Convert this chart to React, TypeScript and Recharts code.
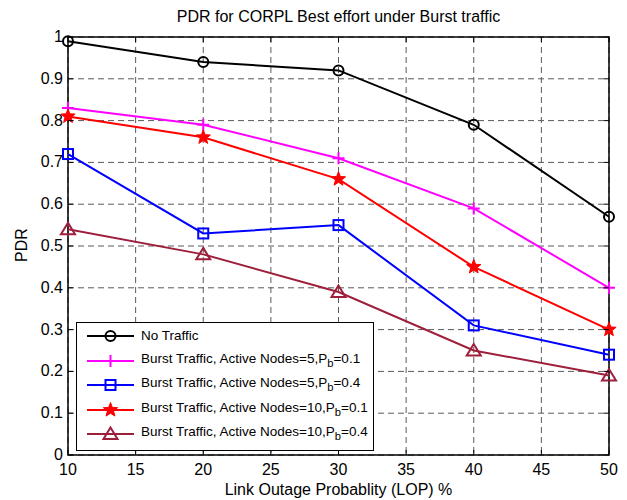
import React from "react";
import {
  LineChart,
  Line,
  XAxis,
  YAxis,
  CartesianGrid,
  ReferenceArea,
} from "recharts";

const lopValues = [10, 20, 30, 40, 50];
const noTraffic = [0.99, 0.94, 0.92, 0.79, 0.57];
const burst5Pb01 = [0.83, 0.79, 0.71, 0.59, 0.4];
const burst5Pb04 = [0.72, 0.53, 0.55, 0.31, 0.24];
const burst10Pb01 = [0.81, 0.76, 0.66, 0.45, 0.3];
const burst10Pb04 = [0.54, 0.48, 0.39, 0.25, 0.19];

const xTicks = [10, 15, 20, 25, 30, 35, 40, 45, 50];
const yTicks = [0, 0.1, 0.2, 0.3, 0.4, 0.5, 0.6, 0.7, 0.8, 0.9, 1];

const W = 627;
const H = 500;
const M = { top: 37, right: 18, bottom: 0, left: 0 };
const Y_AXIS_W = 68;
const X_AXIS_H = 45;
const PLOT_L = M.left + Y_AXIS_W;
const PLOT_R = W - M.right;
const PLOT_T = M.top;
const PLOT_B = H - X_AXIS_H;

const FONT = "'Liberation Sans', Arial, Helvetica, sans-serif";
const MAROON = "#9e1f3c";

const data = lopValues.map((lop, i) => ({
  lop,
  noTraffic: noTraffic[i],
  b5p1: burst5Pb01[i],
  b5p4: burst5Pb04[i],
  b10p1: burst10Pb01[i],
  b10p4: burst10Pb04[i],
}));

type MarkerKind = "circle" | "plus" | "square" | "star" | "triangle";

function starPath(cx: number, cy: number, R: number, r: number) {
  let d = "";
  for (let i = 0; i < 10; i++) {
    const a = -Math.PI / 2 + (i * Math.PI) / 5;
    const rad = i % 2 === 0 ? R : r;
    d += (i === 0 ? "M" : "L") + (cx + rad * Math.cos(a)).toFixed(2) + "," + (cy + rad * Math.sin(a)).toFixed(2);
  }
  return d + "Z";
}

function Marker({ kind, cx, cy, color }: { kind: MarkerKind; cx: number; cy: number; color: string }) {
  switch (kind) {
    case "circle":
      return <circle cx={cx} cy={cy} r={5} fill="none" stroke={color} strokeWidth={2} />;
    case "plus":
      return (
        <path
          d={`M${cx - 6},${cy}H${cx + 6}M${cx},${cy - 6}V${cy + 6}`}
          stroke={color}
          strokeWidth={2}
          fill="none"
        />
      );
    case "square":
      return <rect x={cx - 5} y={cy - 5} width={10} height={10} fill="none" stroke={color} strokeWidth={2} />;
    case "star":
      return <path d={starPath(cx, cy, 7.5, 3.2)} fill={color} stroke={color} strokeWidth={1} />;
    case "triangle":
      return (
        <path
          d={`M${cx},${cy - 6.5}L${cx + 7},${cy + 5}L${cx - 7},${cy + 5}Z`}
          fill="none"
          stroke={color}
          strokeWidth={2}
          strokeLinejoin="miter"
        />
      );
  }
}

const series: { key: string; color: string; marker: MarkerKind; label: React.ReactNode }[] = [
  { key: "noTraffic", color: "#000000", marker: "circle", label: "No Traffic" },
  {
    key: "b5p1",
    color: "#ff00ff",
    marker: "plus",
    label: <>Burst Traffic, Active Nodes=5,P<sub>b</sub>=0.1</>,
  },
  {
    key: "b5p4",
    color: "#0000ff",
    marker: "square",
    label: <>Burst Traffic, Active Nodes=5,P<sub>b</sub>=0.4</>,
  },
  {
    key: "b10p1",
    color: "#ff0000",
    marker: "star",
    label: <>Burst Traffic, Active Nodes=10,P<sub>b</sub>=0.1</>,
  },
  {
    key: "b10p4",
    color: MAROON,
    marker: "triangle",
    label: <>Burst Traffic, Active Nodes=10,P<sub>b</sub>=0.4</>,
  },
];

const XTick = (props: any) => {
  const { x, payload } = props;
  return (
    <g>
      <line x1={x} x2={x} y1={PLOT_B} y2={PLOT_B - 5} stroke="#000" />
      <line x1={x} x2={x} y1={PLOT_T} y2={PLOT_T + 5} stroke="#000" />
      <text x={x} y={PLOT_B + 20} textAnchor="middle" fontSize={16} fill="#000" fontFamily={FONT}>
        {payload.value}
      </text>
    </g>
  );
};

const YTick = (props: any) => {
  const { y, payload } = props;
  return (
    <g>
      <line x1={PLOT_L} x2={PLOT_L + 5} y1={y} y2={y} stroke="#000" />
      <line x1={PLOT_R} x2={PLOT_R - 5} y1={y} y2={y} stroke="#000" />
      <text x={PLOT_L - 5} y={y + 5} textAnchor="end" fontSize={16} fill="#000" fontFamily={FONT}>
        {String(payload.value)}
      </text>
    </g>
  );
};

function LegendBox() {
  return (
    <div
      style={{
        position: "absolute",
        left: 76,
        top: 322,
        width: 298,
        height: 129,
        border: "1.5px solid #000",
        background: "#fff",
        fontFamily: FONT,
        fontSize: 13.5,
        color: "#000",
        paddingTop: 1,
        boxSizing: "border-box",
      }}
    >
      {series.map((s) => (
        <div key={s.key} style={{ display: "flex", alignItems: "center", height: 24.5 }}>
          <svg width={64} height={20} style={{ flex: "none" }}>
            <line x1={10} x2={57} y1={10} y2={10} stroke={s.color} strokeWidth={2} />
            <Marker kind={s.marker} cx={33.5} cy={10} color={s.color} />
          </svg>
          <span style={{ whiteSpace: "nowrap", lineHeight: "16px" }}>{s.label}</span>
        </div>
      ))}
    </div>
  );
}

export default function App() {
  return (
    <div style={{ position: "absolute", left: 0, top: 0, width: W, height: H, background: "#fff" }}>
      <div
        style={{
          position: "absolute",
          left: PLOT_L,
          width: PLOT_R - PLOT_L,
          top: 8,
          textAlign: "center",
          fontFamily: FONT,
          fontSize: 16,
          color: "#000",
        }}
      >
        PDR for CORPL Best effort under Burst traffic
      </div>
      <LineChart width={W} height={H} data={data} margin={M}>
        <CartesianGrid stroke="#5a5a5a" strokeDasharray="6 4" horizontal vertical />
        <XAxis
          dataKey="lop"
          type="number"
          domain={[10, 50]}
          ticks={xTicks}
          height={X_AXIS_H}
          axisLine={false}
          tickLine={false}
          tickSize={0}
          tick={<XTick />}
          interval={0}
        />
        <YAxis
          type="number"
          domain={[0, 1]}
          ticks={yTicks}
          width={Y_AXIS_W}
          axisLine={false}
          tickLine={false}
          tickSize={0}
          tick={<YTick />}
          interval={0}
        />
        <ReferenceArea x1={10} x2={50} y1={0} y2={1} fill="none" stroke="#000" strokeWidth={1.5} />
        {series.map((s) => (
          <Line
            key={s.key}
            dataKey={s.key}
            stroke={s.color}
            strokeWidth={2}
            isAnimationActive={false}
            dot={(p: any) => (
              <g key={`${s.key}-${p.index}`}>
                <Marker kind={s.marker} cx={p.cx} cy={p.cy} color={s.color} />
              </g>
            )}
            activeDot={false}
          />
        ))}
      </LineChart>
      <div
        style={{
          position: "absolute",
          left: PLOT_L,
          width: PLOT_R - PLOT_L,
          top: 481,
          textAlign: "center",
          fontFamily: FONT,
          fontSize: 16,
          color: "#000",
        }}
      >
        Link Outage Probablity (LOP) %
      </div>
      <div
        style={{
          position: "absolute",
          left: 22,
          top: 245,
          transform: "translate(-50%, -50%) rotate(-90deg)",
          fontFamily: FONT,
          fontSize: 16,
          color: "#000",
        }}
      >
        PDR
      </div>
      <LegendBox />
    </div>
  );
}
